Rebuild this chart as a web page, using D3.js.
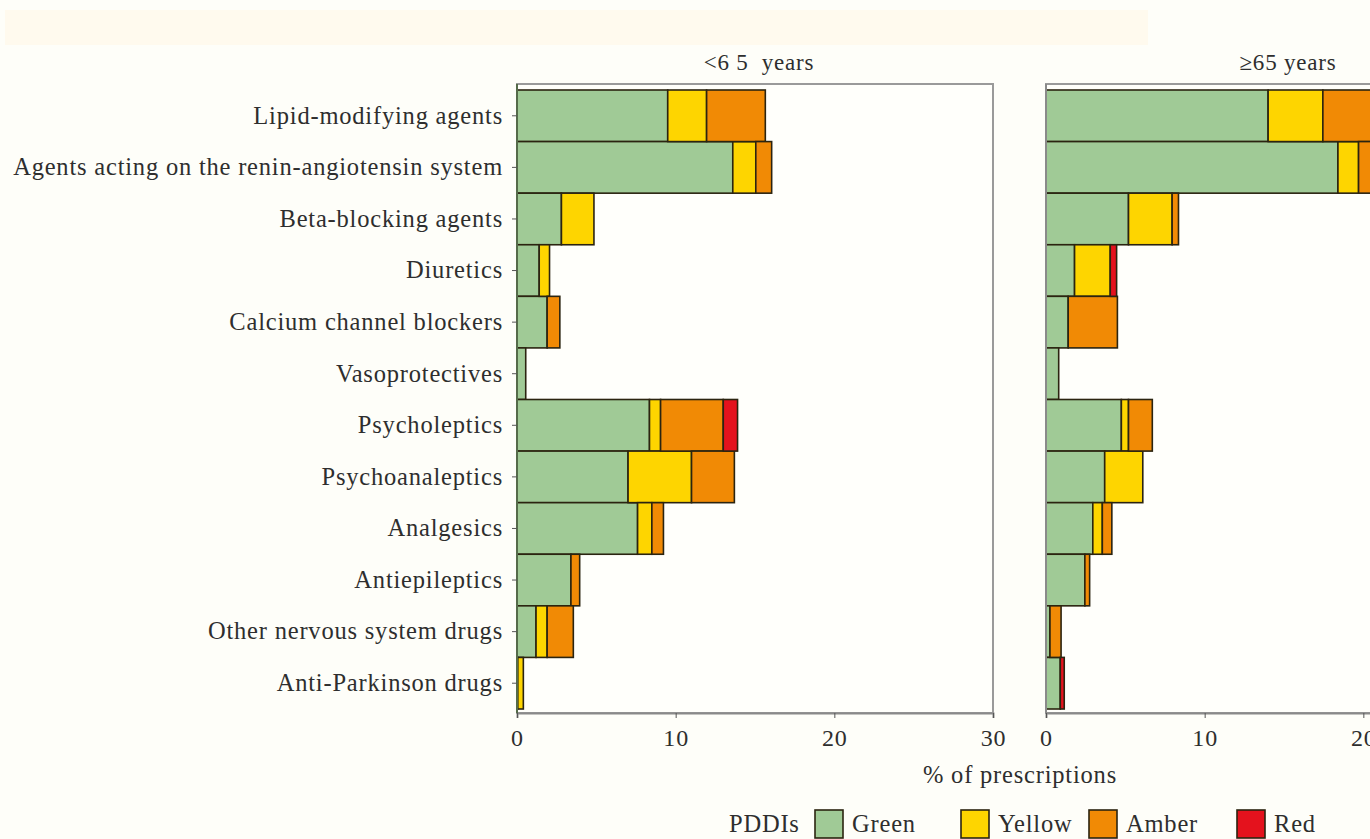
<!DOCTYPE html>
<html>
<head>
<meta charset="utf-8">
<script src="https://cdn.jsdelivr.net/npm/d3@7"></script>
<style>
  html, body { margin: 0; padding: 0; background: #fefef9; }
  svg { display: block; }
  text { font-family: "Liberation Serif", "Times New Roman", serif; fill: #2e2e2e; letter-spacing: 0.8px; }
</style>
</head>
<body>
<svg id="chart" width="1370" height="839"></svg>
<script>
// Drug classes, top to bottom
const categories = [
  "Lipid-modifying agents",
  "Agents acting on the renin-angiotensin system",
  "Beta-blocking agents",
  "Diuretics",
  "Calcium channel blockers",
  "Vasoprotectives",
  "Psycholeptics",
  "Psychoanaleptics",
  "Analgesics",
  "Antiepileptics",
  "Other nervous system drugs",
  "Anti-Parkinson drugs"
];

// PDDI severity levels (stack order, left to right)
const levels = ["Green", "Yellow", "Amber", "Red"];

// % of prescriptions, patients < 65 years
const under65Green  = [9.5, 13.6, 2.8, 1.4, 1.9, 0.55, 8.35, 7.0, 7.6, 3.4, 1.2, 0.05];
const under65Yellow = [2.45, 1.45, 2.05, 0.65, 0, 0, 0.7, 4.0, 0.9, 0, 0.7, 0.35];
const under65Amber  = [3.7, 1.0, 0, 0, 0.8, 0, 3.95, 2.7, 0.73, 0.55, 1.65, 0];
const under65Red    = [0, 0, 0, 0, 0, 0, 0.9, 0, 0, 0, 0, 0];

// % of prescriptions, patients >= 65 years
const over65Green  = [14.0, 18.4, 5.2, 1.8, 1.4, 0.8, 4.75, 3.7, 2.95, 2.45, 0.25, 0.9];
const over65Yellow = [3.45, 1.3, 2.75, 2.25, 0, 0, 0.45, 2.4, 0.6, 0, 0, 0];
const over65Amber  = [4.5, 1.5, 0.4, 0, 3.1, 0, 1.5, 0, 0.6, 0.3, 0.7, 0];
const over65Red    = [0, 0, 0, 0.4, 0, 0, 0, 0, 0, 0, 0, 0.25];

// Axis ticks and panel titles
const xTicks = [0, 10, 20, 30];
const panelTitles = ["<6 5  years", "\u226565 years"];

const levelColors = {
  Green: "#a0ca96",
  Yellow: "#fed500",
  Amber: "#f18a05",
  Red: "#e4121d"
};

function buildRows(g, y, a, r) {
  return categories.map((c, i) => ({ category: c, Green: g[i], Yellow: y[i], Amber: a[i], Red: r[i] }));
}

const panels = [
  { title: panelTitles[0], rows: buildRows(under65Green, under65Yellow, under65Amber, under65Red), left: 517 },
  { title: panelTitles[1], rows: buildRows(over65Green, over65Yellow, over65Amber, over65Red), left: 1046 }
];

const svg = d3.select("#chart");

// Pale header strip
svg.append("rect").attr("x", 5).attr("y", 10).attr("width", 1143).attr("height", 35).attr("fill", "#fffaee");

const panelWidth = 476;
const frameTop = 84, frameBottom = 713;
const fontSize = 24.5;

const y = d3.scaleBand().domain(categories).range([90, 709]).padding(0);
const stack = d3.stack().keys(levels);

panels.forEach((p, pi) => {
  const x = d3.scaleLinear().domain([0, 30]).range([p.left, p.left + panelWidth]);
  const g = svg.append("g");

  // Panel background and frame
  g.append("rect")
    .attr("x", p.left).attr("y", frameTop)
    .attr("width", panelWidth).attr("height", frameBottom - frameTop)
    .attr("fill", "#fffffb").attr("stroke", "#9a9a9a").attr("stroke-width", 2);

  // Stacked bars
  const series = stack(p.rows);
  g.selectAll("g.series")
    .data(series)
    .join("g")
    .attr("class", "series")
    .attr("fill", d => levelColors[d.key])
    .selectAll("rect")
    .data(d => d.filter(s => s[1] - s[0] > 0))
    .join("rect")
    .attr("x", d => x(d[0]))
    .attr("y", d => y(d.data.category))
    .attr("width", d => x(d[1]) - x(d[0]))
    .attr("height", y.bandwidth())
    .attr("stroke", "#2b2410")
    .attr("stroke-width", 1.6);

  // X axis
  const xAxis = d3.axisBottom(x).tickValues(xTicks).tickSize(5).tickPadding(11).tickFormat(d3.format("d"));
  const ax = g.append("g").attr("transform", `translate(0,${frameBottom})`).call(xAxis);
  ax.select(".domain").attr("stroke", "#8a8a8a").attr("stroke-width", 2);
  ax.selectAll(".tick line").attr("stroke", "#555");
  ax.selectAll(".tick text").attr("font-size", 24).attr("fill", "#333")
    .attr("font-family", "'Liberation Serif', serif");

  // Y axis (labels only on the first panel)
  const yAxis = d3.axisLeft(y).tickSize(5).tickPadding(9);
  const ay = g.append("g").attr("transform", `translate(${p.left},0)`).call(yAxis);
  ay.select(".domain").attr("stroke", pi === 0 ? "#556b4a" : "#8a8a8a").attr("stroke-width", 2)
    .attr("d", `M0,${frameTop}V${frameBottom}`);
  ay.selectAll(".tick line").attr("stroke", "#555");
  ay.selectAll(".tick text")
    .attr("font-size", fontSize).attr("fill", "#2e2e2e")
    .attr("font-family", "'Liberation Serif', serif")
    .style("display", pi === 0 ? null : "none");
  if (pi > 0) ay.selectAll(".tick line").remove();

  // Panel title
  g.append("text")
    .attr("x", p.left + panelWidth / 2 + 4)
    .attr("y", 70)
    .attr("text-anchor", "middle")
    .attr("font-size", 23)
    .style("white-space", "pre")
    .text(p.title);
});

// X axis title
svg.append("text")
  .attr("x", 1020).attr("y", 783)
  .attr("text-anchor", "middle")
  .attr("font-size", fontSize)
  .text("% of prescriptions");

// Legend
const legend = svg.append("g");
legend.append("text").attr("x", 729).attr("y", 832).attr("font-size", fontSize).text("PDDIs");
const legendX = [815, 961, 1089, 1237];
levels.forEach((lv, i) => {
  legend.append("rect")
    .attr("x", legendX[i]).attr("y", 810)
    .attr("width", 28).attr("height", 28)
    .attr("fill", levelColors[lv])
    .attr("stroke", "#2b2410").attr("stroke-width", 1.6);
  legend.append("text")
    .attr("x", legendX[i] + 37).attr("y", 832)
    .attr("font-size", fontSize)
    .text(lv);
});
</script>
</body>
</html>
